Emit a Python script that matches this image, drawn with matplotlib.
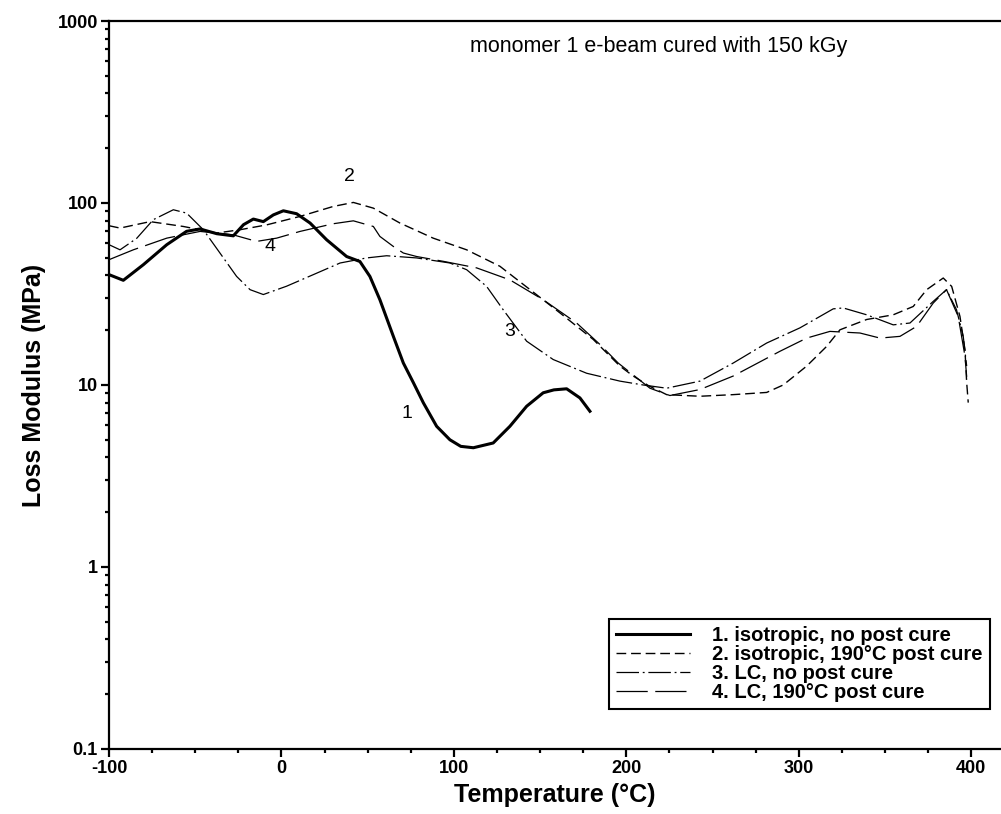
import numpy as np
import matplotlib.pyplot as plt
from matplotlib.ticker import MultipleLocator, LogLocator, FuncFormatter, NullFormatter

plt.rcParams['font.family'] = ['Liberation Sans', 'DejaVu Sans']
plt.rcParams['axes.unicode_minus'] = False

# curve 1: isotropic, no post cure
t1 = [-100, -91.7, -80.1, -66.5, -55, -47.2, -37.5, -27.9, -22, -16.3, -10.5, -4.7,
      1.1, 8.8, 16.6, 26.2, 37.8, 45.5, 51.3, 57.1, 64.9, 70.7, 76.5, 82.3, 90,
      97.7, 104, 111.3, 122.8, 132.5, 142.2, 151.8, 158, 165.4, 173.1, 178.9]
e1 = [40.4, 37.6, 45.8, 59, 69.9, 72, 67.8, 66, 76, 81.6, 79, 86,
      90.6, 87.3, 77.6, 62.8, 50.8, 47.7, 39.5, 29.4, 18.5, 13.2, 10.3, 7.98, 5.93,
      5.0, 4.6, 4.52, 4.8, 5.93, 7.64, 9.06, 9.4, 9.53, 8.49, 7.17]

# curve 2: isotropic, 190 C post cure
t2 = [-100, -93.6, -76.2, -56.9, -37.5, -24, -8.6, 10.8, 30, 41.7, 53.3, 68.7, 88,
      107.4, 126.7, 146, 161.5, 180.8, 196.3, 204, 213, 223.4, 242.7, 262, 281.4,
      291, 304.6, 316.2, 323.9, 339.4, 354.8, 366.4, 374.2, 383.8, 388.7, 393.5,
      396.4, 397.4, 398.3]
e2 = [75, 72.8, 79, 74.3, 68.4, 71.3, 75.8, 84.4, 95.7, 100.7, 93.7, 77.6, 64.1,
      55.3, 44.9, 32.4, 24.9, 17.8, 12.7, 11.2, 9.9, 8.85, 8.67, 8.85, 9.1,
      10, 12.7, 16.3, 20.1, 22.9, 24.3, 27, 33.4, 38.7, 34.8, 23.8,
      15.6, 10.3, 8.0]

# curve 3: LC, no post cure
t3 = [-100, -93.6, -83.9, -74.3, -62.7, -55, -45.3, -35.6, -26, -18.2, -10.5, 3,
      18.5, 34, 49.4, 61, 78.4, 97.7, 107.4, 119, 128.6, 142.2, 157.6, 177, 196.3,
      209.8, 223.4, 242.7, 262, 281.4, 300.7, 320, 325.8, 339.4, 354.8, 364.5,
      378, 385.7, 391.5, 395.4, 397.4]
e3 = [59, 55.3, 64, 81, 91.8, 88, 71.3, 53, 39.5, 33.4, 31.4, 34.9,
      40.4, 46.8, 49.9, 51.3, 49.9, 46.8, 43, 34.8, 25.9, 17.4, 13.8, 11.6, 10.5,
      10.0, 9.6, 10.5, 13.2, 17, 20.6, 26.2, 26.5, 24.3, 21.4, 21.9,
      28.8, 33.4, 25.9, 18.5, 12.7]

# curve 4: LC, 190 C post cure
t4 = [-100, -85.9, -66.5, -47.2, -27.9, -14.4, -2.8, 10.8, 30, 41.7, 53.3, 57.1,
      64.9, 70.7, 78.4, 93.9, 113.2, 132.5, 151.8, 171.2, 184.7, 195.3, 213.7,
      225.3, 242.7, 262, 289, 304.6, 318.1, 335.5, 347.1, 358.7, 368.4, 378,
      385.7, 392.5, 396.4, 397.4]
e4 = [48.8, 55.3, 64.1, 69.8, 66.8, 61.5, 64.1, 69.8, 76.9, 79.8, 74.3, 65.5,
      57.7, 53.1, 50.8, 47.8, 44, 37.8, 29.4, 21.9, 16.7, 13.2, 9.6,
      8.75, 9.44, 11.2, 15.3, 18.1, 19.7, 19.3, 18.1, 18.5, 21, 28.2,
      33.4, 23.8, 14.4, 11.1]

labels = ['1. isotropic, no post cure', '2. isotropic, 190\u00b0C post cure',
          '3. LC, no post cure', '4. LC, 190\u00b0C post cure']

fig = plt.figure(figsize=(10.01, 8.14), dpi=100)
ax = fig.add_axes([0.1089, 0.0799, 0.8911, 0.8943])

ax.plot(t1, e1, color='black', lw=2.2, label=labels[0])
l2, = ax.plot(t2, e2, color='black', lw=1.0, label=labels[1])
l2.set_dashes((7, 3.5))
l3, = ax.plot(t3, e3, color='black', lw=0.9, label=labels[2])
l3.set_dashes((18, 3, 1.5, 3))
l4, = ax.plot(t4, e4, color='black', lw=0.9, label=labels[3])
l4.set_dashes((25, 6))

ax.set_yscale('log')
ax.set_xlim(-100, 417.3)
ax.set_ylim(0.1, 1000)

ax.xaxis.set_major_locator(MultipleLocator(100))
ax.xaxis.set_minor_locator(MultipleLocator(25))
ax.yaxis.set_major_locator(LogLocator(base=10, numticks=10))
ax.yaxis.set_minor_locator(LogLocator(base=10, subs=np.arange(2, 10), numticks=20))
ax.yaxis.set_major_formatter(FuncFormatter(lambda v, p: '%g' % v))
ax.yaxis.set_minor_formatter(NullFormatter())

ax.spines['right'].set_visible(False)
for s in ['left', 'bottom', 'top']:
    ax.spines[s].set_linewidth(1.6)
ax.tick_params(which='major', direction='out', length=6, width=1.6, labelsize=13, pad=2)
ax.tick_params(which='minor', direction='out', length=3, width=1.6)
for lab in ax.get_xticklabels() + ax.get_yticklabels():
    lab.set_fontweight('bold')

ax.set_xlabel('Temperature (\u00b0C)', fontsize=18, fontweight='bold', labelpad=4)
ax.set_ylabel('Loss Modulus (MPa)', fontsize=18, fontweight='bold', labelpad=8)

ax.text(109.3, 720, 'monomer 1 e-beam cured with 150 kGy', fontsize=15.5, va='center', ha='left')
ax.text(72.6, 7.0, '1', fontsize=14, ha='center', va='center')
ax.text(39.7, 139.6, '2', fontsize=14, ha='center', va='center')
ax.text(132.1, 19.7, '3', fontsize=14, ha='center', va='center')
ax.text(-6.6, 57.7, '4', fontsize=14, ha='center', va='center')

leg = ax.legend(loc='lower right', bbox_to_anchor=(0.9877, 0.055), borderaxespad=0,
                prop={'weight': 'bold', 'size': 14.5}, handlelength=3.7, fancybox=False,
                framealpha=1, edgecolor='black', labelspacing=0.0, borderpad=0.35,
                handletextpad=1.1)
leg.get_frame().set_linewidth(1.5)

fig.savefig('out.png', dpi=100)
